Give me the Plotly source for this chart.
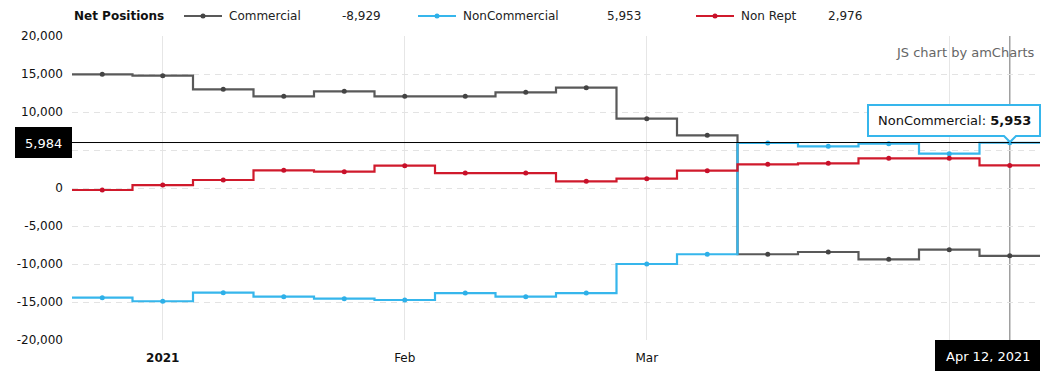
import plotly.graph_objects as go

# ---- data ----
dates = ["Dec 28, 2020", "Jan 4, 2021", "Jan 11, 2021", "Jan 18, 2021", "Jan 25, 2021",
         "Feb 1, 2021", "Feb 8, 2021", "Feb 15, 2021", "Feb 22, 2021", "Mar 1, 2021",
         "Mar 8, 2021", "Mar 15, 2021", "Mar 22, 2021", "Mar 29, 2021", "Apr 5, 2021",
         "Apr 12, 2021"]
commercial = [14960, 14780, 12980, 12060, 12720, 12060, 12060, 12590, 13200, 9120,
              6930, -8720, -8420, -9390, -8110, -8929]
noncommercial = [-14430, -14900, -13770, -14300, -14560, -14740, -13820, -14300, -13820, -10000,
                 -8720, 5920, 5490, 5830, 4510, 5953]
nonrept = [-260, 390, 1050, 2320, 2150, 2940, 1970, 1970, 880, 1230,
           2280, 3110, 3250, 3900, 3900, 2976]
series_names = ["Commercial", "NonCommercial", "Non Rept"]
series_values = [commercial, noncommercial, nonrept]
colors = ["#595959", "#36b6ec", "#d01a2c"]
marker_colors = ["#444444", "#2eb0e8", "#c8102a"]
tick_idx = [1, 5, 9, 14]
tick_text = ["<b>2021</b>", "Feb", "Mar", ""]
y_ticks = [20000, 15000, 10000, 5000, 0, -5000, -10000, -15000, -20000]
y_ticktext = ["20,000", "15,000", "10,000", "", "0", "-5,000", "-10,000", "-15,000", "-20,000"]
cursor_value = 5984
cursor_date = "Apr 12, 2021"
FONT = "DejaVu Sans"

W, H = 1051, 381
L, R, T, B = 72, 11, 36, 41
PW, PH = W - L - R, H - T - B


def px(x):
    return (x - L) / PW


def py(y):
    return (H - B - y) / PH


n = len(dates)
xi = list(range(n))
fig = go.Figure()
for name, vals, c, mc in zip(series_names, series_values, colors, marker_colors):
    xe = [-0.5] + xi + [n - 0.5]
    ye = [vals[0]] + vals + [vals[-1]]
    fig.add_trace(go.Scatter(x=xe, y=ye, mode="lines", line=dict(color=c, width=2.2, shape="hvh"),
                             name=name, showlegend=False, hoverinfo="skip"))
    fig.add_trace(go.Scatter(x=xi, y=vals, mode="markers", marker=dict(color=mc, size=5),
                             name=name, showlegend=False, hoverinfo="skip"))

shapes = []
annotations = []

# horizontal cursor line and vertical cursor line
shapes.append(dict(type="line", xref="paper", yref="y", x0=0, x1=1, y0=cursor_value, y1=cursor_value,
                   line=dict(color="black", width=1), layer="above"))
shapes.append(dict(type="line", xref="x", yref="paper", x0=n - 1, x1=n - 1, y0=0, y1=1,
                   line=dict(color="#a0a0a0", width=1.5), layer="below"))

# legend
annotations.append(dict(text="<b>Net Positions</b>", xref="paper", yref="paper", x=px(72), y=py(16),
                        xanchor="left", yanchor="middle", showarrow=False,
                        font=dict(family=FONT, size=12, color="#111")))
leg = [(184, 227, 340), (418, 461, 605), (696, 739, 826)]
for (lx, tx, vx), name, vals, c, mc in zip(leg, series_names, series_values, colors, marker_colors):
    shapes.append(dict(type="line", xref="paper", yref="paper", x0=px(lx), x1=px(lx + 38),
                       y0=py(16), y1=py(16), line=dict(color=c, width=2)))
    shapes.append(dict(type="circle", xref="paper", yref="paper", x0=px(lx + 16.5), x1=px(lx + 21.5),
                       y0=py(18.5), y1=py(13.5), fillcolor=mc, line=dict(width=0)))
    annotations.append(dict(text=name, xref="paper", yref="paper", x=px(tx), y=py(16),
                            xanchor="left", yanchor="middle", showarrow=False,
                            font=dict(family=FONT, size=12, color="#222")))
    annotations.append(dict(text=f"{vals[-1]:,}", xref="paper", yref="paper", x=px(vx), y=py(16),
                            xanchor="left", yanchor="middle", showarrow=False,
                            font=dict(family=FONT, size=12, color="#222")))

# credit
annotations.append(dict(text="JS chart by amCharts", xref="paper", yref="paper", x=px(1037), y=py(52),
                        xanchor="right", yanchor="middle", showarrow=False,
                        font=dict(family=FONT, size=13, color="#666")))

# tooltip callout
pts = [(868, 105), (1040, 105), (1040, 136), (1016, 136), (1010, 142), (1004, 136), (868, 136)]
path = "M " + " L ".join(f"{px(a):.5f},{py(b):.5f}" for a, b in pts) + " Z"
shapes.append(dict(type="path", xref="paper", yref="paper", path=path, fillcolor="white",
                   line=dict(color="#36b6ec", width=2), layer="above"))
annotations.append(dict(text=f"NonCommercial: <b>{noncommercial[-1]:,}</b>", xref="paper", yref="paper",
                        x=px(954), y=py(121), xanchor="center", yanchor="middle", showarrow=False,
                        font=dict(family=FONT, size=13, color="#111")))

# value label boxes
shapes.append(dict(type="rect", xref="paper", yref="paper", x0=px(15), x1=px(72), y0=py(127), y1=py(158),
                   fillcolor="black", line=dict(width=0), layer="above"))
annotations.append(dict(text=f"{cursor_value:,}", xref="paper", yref="paper", x=px(64), y=py(143),
                        xanchor="right", yanchor="middle", showarrow=False,
                        font=dict(family=FONT, size=13, color="white")))
shapes.append(dict(type="rect", xref="paper", yref="paper", x0=px(935), x1=px(1040), y0=py(340), y1=py(371),
                   fillcolor="black", line=dict(width=0), layer="above"))
annotations.append(dict(text=cursor_date, xref="paper", yref="paper", x=px(988), y=py(356),
                        xanchor="center", yanchor="middle", showarrow=False,
                        font=dict(family=FONT, size=13, color="white")))

fig.update_layout(
    width=W, height=H, margin=dict(l=L, r=R, t=T, b=B),
    paper_bgcolor="white", plot_bgcolor="white",
    font=dict(family=FONT, size=12, color="#111"),
    showlegend=False, hovermode=False,
    shapes=shapes, annotations=annotations,
    xaxis=dict(range=[-0.5, n - 0.5], tickvals=tick_idx, ticktext=tick_text, showgrid=True,
               gridcolor="#e6e6e6", gridwidth=1, zeroline=False, showline=False, ticks="",
               ticklabelstandoff=9, tickfont=dict(family=FONT, size=12, color="#111")),
    yaxis=dict(range=[-20000, 20000], tickvals=y_ticks, ticktext=y_ticktext, showgrid=True,
               gridcolor="#e3e3e3", gridwidth=1, griddash="6px,5px", zeroline=False, showline=False,
               ticks="", ticklabelstandoff=8, tickfont=dict(family=FONT, size=12, color="#111")),
)

fig.write_html("out.html", config={"displayModeBar": False},
               post_script="document.body.style.margin='0';document.body.style.overflow='hidden';")
